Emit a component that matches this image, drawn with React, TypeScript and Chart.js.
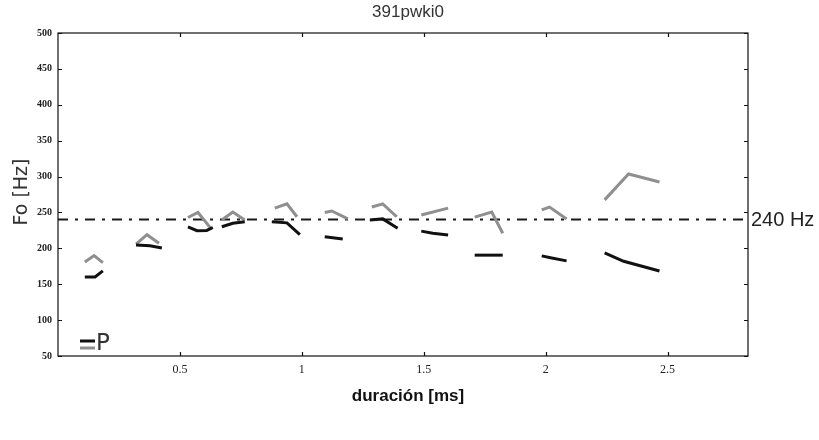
import React, { useEffect, useRef } from "react";
import { Chart, registerables } from "chart.js";

Chart.register(...registerables);

const chartTitle = "391pwki0";
const xAxisTitle = "duración [ms]";
const yAxisTitle = "Fo [Hz]";
const legendLabel = "P";
const xTicks = [0.5, 1, 1.5, 2, 2.5];
const yTicks = [50, 100, 150, 200, 250, 300, 350, 400, 450, 500];
const xRange = [0, 2.83];
const yRange = [50, 500];
const referenceHz = 240;
const referenceLabel = "240 Hz";

// upper (gray) contour segments: [time, Hz]
const upper1 = [[0.11, 181], [0.148, 190], [0.184, 180]];
const upper2 = [[0.32, 206], [0.365, 219], [0.414, 207]];
const upper3 = [[0.533, 243], [0.574, 250], [0.631, 226]];
const upper4 = [[0.672, 239.5], [0.717, 250.5], [0.766, 239.5]];
const upper5 = [[0.889, 256], [0.939, 262], [0.98, 244]];
const upper6 = [[1.094, 250], [1.123, 252], [1.189, 241]];
const upper7 = [[1.287, 257.5], [1.332, 262], [1.389, 244]];
const upper8 = [[1.49, 246.5], [1.6, 256]];
const upper9 = [[1.709, 243.5], [1.779, 250.5], [1.824, 221]];
const upper10 = [[1.984, 253.5], [2.016, 257.5], [2.086, 241]];
const upper11 = [[2.242, 267.5], [2.34, 303.5], [2.467, 292.5]];

// lower (black) contour segments: [time, Hz]
const lower1 = [[0.11, 160], [0.152, 160], [0.184, 168.5]];
const lower2 = [[0.32, 204.5], [0.377, 203.5], [0.426, 200.5]];
const lower3 = [[0.533, 230], [0.57, 224.5], [0.61, 225], [0.635, 229]];
const lower4 = [[0.672, 230], [0.717, 235], [0.766, 237]];
const lower5 = [[0.877, 237], [0.939, 235.5], [0.992, 219]];
const lower6 = [[1.094, 216], [1.168, 213]];
const lower7 = [[1.279, 239.5], [1.332, 241], [1.393, 228]];
const lower8 = [[1.49, 224], [1.537, 221], [1.6, 218.5]];
const lower9 = [[1.709, 190.5], [1.824, 190.5]];
const lower10 = [[1.984, 189.5], [2.025, 186.5], [2.086, 182.5]];
const lower11 = [[2.242, 193.5], [2.32, 182], [2.467, 168.5]];

const upperSegments = [upper1, upper2, upper3, upper4, upper5, upper6, upper7, upper8, upper9, upper10, upper11];
const lowerSegments = [lower1, lower2, lower3, lower4, lower5, lower6, lower7, lower8, lower9, lower10, lower11];

const upperColor = "#8f8f8f";
const lowerColor = "#111111";

const decorPlugin = {
  id: "decor",
  beforeDatasetsDraw(chart: any) {
    const { ctx, chartArea: a, scales } = chart;
    const y = scales.y.getPixelForValue(referenceHz);
    ctx.save();
    ctx.strokeStyle = "#1a1a1a";
    ctx.lineWidth = 2;
    ctx.setLineDash([10, 7, 3, 7]);
    ctx.beginPath();
    ctx.moveTo(a.left, y);
    ctx.lineTo(a.right, y);
    ctx.stroke();
    ctx.restore();
  },
  afterDraw(chart: any) {
    const { ctx, chartArea: a, scales } = chart;
    ctx.save();
    // frame
    ctx.strokeStyle = "#111";
    ctx.lineWidth = 1.2;
    ctx.strokeRect(a.left, a.top, a.right - a.left, a.bottom - a.top);
    // inward ticks
    ctx.beginPath();
    const tl = 4;
    xTicks.forEach((v) => {
      const px = Math.round(scales.x.getPixelForValue(v)) + 0.5;
      ctx.moveTo(px, a.bottom);
      ctx.lineTo(px, a.bottom - tl);
      ctx.moveTo(px, a.top);
      ctx.lineTo(px, a.top + tl);
    });
    yTicks.forEach((v) => {
      const py = Math.round(scales.y.getPixelForValue(v)) + 0.5;
      ctx.moveTo(a.left, py);
      ctx.lineTo(a.left + tl, py);
      ctx.moveTo(a.right, py);
      ctx.lineTo(a.right - tl, py);
    });
    ctx.stroke();

    const cx = (a.left + a.right) / 2;
    // title
    ctx.fillStyle = "#333";
    ctx.font = "17px 'Liberation Sans', Arial, sans-serif";
    ctx.textAlign = "center";
    ctx.textBaseline = "middle";
    ctx.fillText(chartTitle, cx + 5, 12);
    // x title
    ctx.fillStyle = "#111";
    ctx.font = "bold 17px 'Liberation Sans', Arial, sans-serif";
    ctx.fillText(xAxisTitle, cx + 5, 396);
    // y title
    ctx.save();
    ctx.translate(22, 192);
    ctx.rotate(-Math.PI / 2);
    ctx.fillStyle = "#333";
    ctx.font = "19px 'DejaVu Sans', sans-serif";
    ctx.fillText(yAxisTitle, 0, 0);
    ctx.restore();
    // reference label
    const ry = scales.y.getPixelForValue(referenceHz);
    ctx.fillStyle = "#222";
    ctx.font = "20px 'Liberation Sans', Arial, sans-serif";
    ctx.textAlign = "left";
    ctx.fillText(referenceLabel, a.right + 3, ry + 1);
    // legend "=P"
    ctx.lineWidth = 3;
    ctx.strokeStyle = lowerColor;
    ctx.beginPath();
    ctx.moveTo(80, 341);
    ctx.lineTo(95, 341);
    ctx.stroke();
    ctx.strokeStyle = upperColor;
    ctx.beginPath();
    ctx.moveTo(80, 348);
    ctx.lineTo(95, 348);
    ctx.stroke();
    ctx.fillStyle = "#333";
    ctx.font = "23px 'DejaVu Sans', sans-serif";
    ctx.fillText(legendLabel, 96, 344);
    ctx.restore();
  },
};

export default function App() {
  const ref = useRef<HTMLCanvasElement>(null);
  useEffect(() => {
    document.body.style.margin = "0";
    const toPts = (seg: number[][]) => seg.map(([x, y]) => ({ x, y }));
    const datasets: any[] = [];
    lowerSegments.forEach((seg, i) =>
      datasets.push({
        label: "lower" + i,
        data: toPts(seg),
        borderColor: lowerColor,
        borderWidth: 3,
        pointRadius: 0,
        showLine: true,
        tension: 0,
      })
    );
    upperSegments.forEach((seg, i) =>
      datasets.push({
        label: "upper" + i,
        data: toPts(seg),
        borderColor: upperColor,
        borderWidth: 3,
        pointRadius: 0,
        showLine: true,
        tension: 0,
      })
    );
    const chart = new Chart(ref.current!, {
      type: "scatter",
      data: { datasets },
      plugins: [decorPlugin],
      options: {
        animation: false,
        responsive: false,
        devicePixelRatio: 1,
        layout: { padding: { left: 0, top: 33, right: 71, bottom: 0 } },
        plugins: { legend: { display: false }, tooltip: { enabled: false }, title: { display: false } },
        scales: {
          x: {
            type: "linear",
            min: xRange[0],
            max: xRange[1],
            grid: { display: false, drawTicks: false },
            border: { display: false },
            afterFit: (s: any) => {
              s.height = 84;
            },
            afterBuildTicks: (s: any) => {
              s.ticks = xTicks.map((v) => ({ value: v }));
            },
            ticks: {
              padding: 7,
              color: "#222",
              font: { family: "'Liberation Serif', serif", size: 12 },
              callback: (v: any) => String(v),
            },
          },
          y: {
            type: "linear",
            min: yRange[0],
            max: yRange[1],
            grid: { display: false, drawTicks: false },
            border: { display: false },
            afterFit: (s: any) => {
              s.width = 58;
            },
            afterBuildTicks: (s: any) => {
              s.ticks = yTicks.map((v) => ({ value: v }));
            },
            ticks: {
              padding: 6,
              color: "#222",
              font: { family: "'Liberation Serif', serif", size: 10, weight: "bold" },
              callback: (v: any) => String(v),
            },
          },
        },
      },
    });
    return () => chart.destroy();
  }, []);
  return <canvas ref={ref} width={819} height={440} style={{ display: "block" }} />;
}
